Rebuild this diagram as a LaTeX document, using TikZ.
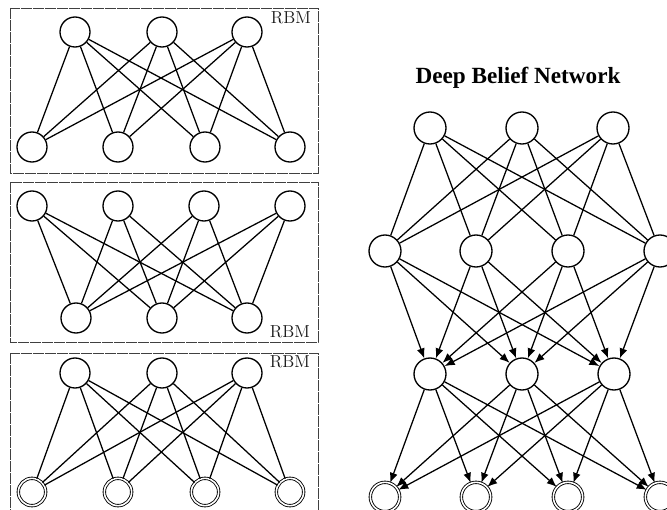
\documentclass[tikz,border=0pt]{standalone}
\usepackage{fontspec}
\newfontfamily\titlefont{Liberation Serif}
\usetikzlibrary{arrows.meta}
\begin{document}
\begin{tikzpicture}[x=0.75pt,y=-0.75pt,
  neuron/.style={circle,draw,line width=1pt,minimum size=22.5pt,inner sep=0pt,fill=white},
  bigneuron/.style={circle,draw,line width=1pt,minimum size=24pt,inner sep=0pt,fill=white},
  visneuron/.style={circle,draw,line width=0.65pt,double,double distance=1.2pt,minimum size=20.5pt,inner sep=0pt},
  bigvisneuron/.style={circle,draw,line width=0.65pt,double,double distance=1.2pt,minimum size=22pt,inner sep=0pt},
  link/.style={line width=0.95pt},
  arrowlink/.style={line width=0.95pt,-{Latex[length=7.5pt,width=6pt]}},
  rbmbox/.style={draw=black!75,line width=0.55pt,dash pattern=on 8pt off 1pt},
  rbmlabel/.style={font=\fontsize{13}{15}\selectfont,text=black!90,inner sep=0pt}]
\useasboundingbox (0,0) rectangle (667,510);
% ---------- RBM boxes ----------
\draw[rbmbox] (10,8) rectangle (318,173);
\draw[rbmbox] (10,182) rectangle (318,342);
\draw[rbmbox] (10,353) rectangle (318,530);
\node[rbmlabel] (l1) at (291,18) {RBM};
\node[rbmlabel] (l2) at (290,332) {RBM};
\node[rbmlabel] (l3) at (290,362) {RBM};
% box 1
\foreach \i/\x in {1/75,2/162,3/247} \node[neuron] (a\i) at (\x,32) {};
\foreach \i/\x in {1/32,2/118,3/205,4/290} \node[neuron] (b\i) at (\x,147) {};
\foreach \i in {1,2,3} \foreach \j in {1,2,3,4} \draw[link] (a\i) -- (b\j);
% box 2
\foreach \i/\x in {1/32,2/118,3/204,4/290} \node[neuron] (c\i) at (\x,206) {};
\foreach \i/\x in {1/76,2/162,3/247} \node[neuron] (d\i) at (\x,318) {};
\foreach \i in {1,2,3,4} \foreach \j in {1,2,3} \draw[link] (c\i) -- (d\j);
% box 3
\foreach \i/\x in {1/75,2/162,3/247} \node[neuron] (e\i) at (\x,373) {};
\foreach \i/\x in {1/32,2/118,3/205,4/290} \node[visneuron] (f\i) at (\x,492) {};
\foreach \i in {1,2,3} \foreach \j in {1,2,3,4} \draw[link] (e\i) -- (f\j);
% ---------- DBN ----------
\node[font=\titlefont\bfseries\fontsize{17.4}{20}\selectfont,inner sep=0pt] (title) at (518,78) {Deep Belief Network};
\foreach \i/\x in {1/430,2/522,3/613} \node[bigneuron] (p\i) at (\x,128) {};
\foreach \i/\x in {1/385,2/476,3/568,4/660} \node[bigneuron] (q\i) at (\x,251) {};
\foreach \i/\x in {1/430,2/522,3/614} \node[bigneuron] (r\i) at (\x,374) {};
\foreach \i/\x in {1/385,2/476,3/568,4/660} \node[bigvisneuron] (s\i) at (\x,497) {};
\foreach \i in {1,2,3} \foreach \j in {1,2,3,4} \draw[link] (p\i) -- (q\j);
\foreach \i in {1,2,3,4} \foreach \j in {1,2,3} \draw[arrowlink] (q\i) -- (r\j);
\foreach \i in {1,2,3} \foreach \j in {1,2,3,4} \draw[arrowlink] (r\i) -- (s\j);
\end{tikzpicture}
\end{document}
